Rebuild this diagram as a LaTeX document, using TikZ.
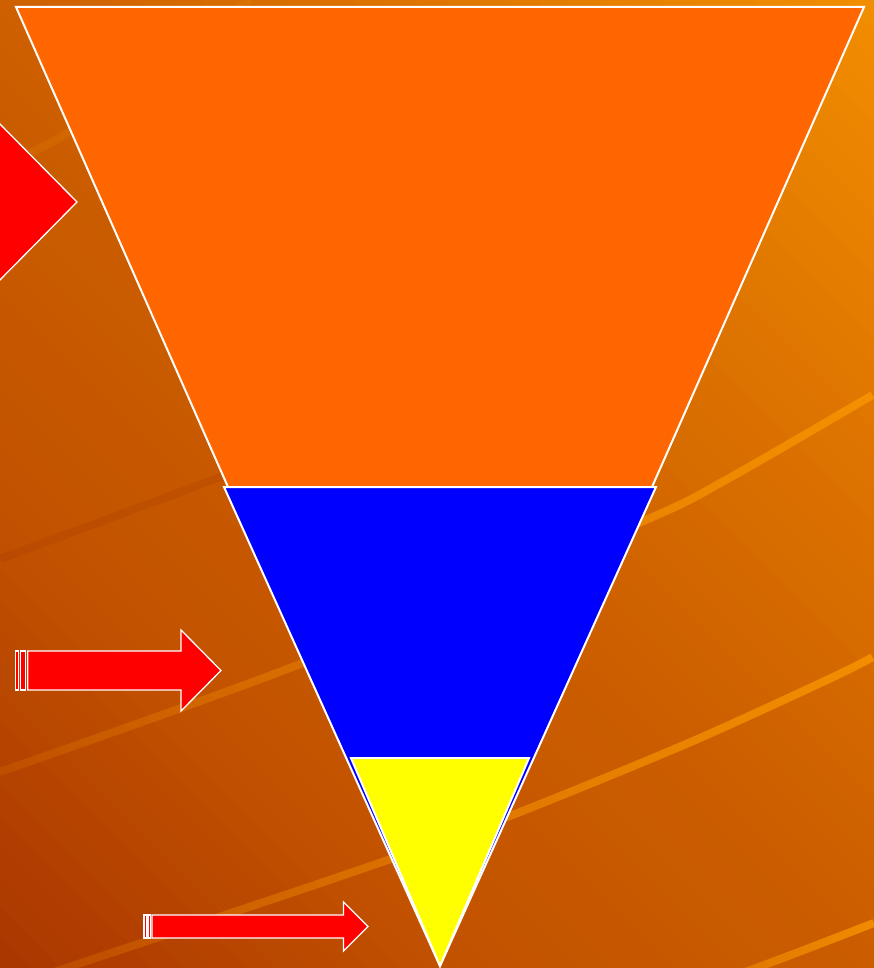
\documentclass[tikz,border=0pt]{standalone}
\usepackage{tikz}
\usetikzlibrary{calc, fadings}

\definecolor{bga}{HTML}{AA3600}
\definecolor{bgb}{HTML}{C25200}
\definecolor{bgc}{HTML}{CC5E00}
\definecolor{bgd}{HTML}{DE7400}
\definecolor{bge}{HTML}{F28E00}
\definecolor{stripelight}{HTML}{F89400}
\definecolor{stripedark}{HTML}{A03400}
\definecolor{funnelorange}{HTML}{FF6600}
\definecolor{funnelblue}{HTML}{0000FF}
\definecolor{funnelyellow}{HTML}{FFFF00}
\definecolor{arrowred}{HTML}{FF0000}

\tikzfading[name=stripefade, left color=transparent!85, right color=transparent!15]

\begin{document}
\begin{tikzpicture}[x=1pt, y=-1pt]
            \tikzstyle{layer} = [draw=white, line width=2pt, line join=miter]
            \tikzstyle{redpart} = [draw=white, fill=arrowred, line width=1.3pt, line join=miter]
            \tikzstyle{stripe} = [line width=8pt, color=stripelight, path fading=stripefade]
            
            % frame and background, diagonal bands from bottom left to top right
            \useasboundingbox (0,0) rectangle (874,968);
            \clip (0,0) rectangle (874,968);
            \foreach \ca/\cb/\k in {bga/bgb/0, bgb/bgc/1, bgc/bgd/2, bgd/bge/3}
              \foreach \j in {0,...,14} {
                \pgfmathsetmacro\sa{(\k*15+\j)*30.7 - 968}
                \pgfmathsetmacro\sb{\sa + 31.7}
                \pgfmathsetmacro\p{100 - (\j+0.5)*100/15}
                \fill[\ca!\p!\cb] (\sa-10,-10) -- (\sb-10,-10) -- (\sb+980,980) -- (\sa+980,980) -- cycle;
              }
            \draw[stripe] plot[smooth] coordinates {(0,772) (301,664) (640,523) (727,480) (874,395)};
            \draw[stripe] plot[smooth] coordinates {(0,990) (330,880) (500,820) (687,744) (830,679) (874,657)};
            \draw[stripe] plot[smooth] coordinates {(600,1025) (767,964) (874,923)};
            \draw[stripe, path fading=none, opacity=0.15] plot[smooth] coordinates {(0,165) (72,130) (250,0)};
            \draw[stripe, path fading=none, color=stripedark, opacity=0.2] plot[smooth] coordinates {(0,559) (215,479) (420,400)};
            
            % funnel
            \draw[layer, fill=funnelorange] (16,7) -- (864,7) -- (652,487) -- (228,487) -- cycle;
            \draw[layer, fill=funnelblue] (224,487) -- (656,487) -- (440,966) -- cycle;
            \draw[layer, fill=funnelyellow] (351,758) -- (529,758) -- (440,966) -- cycle;
            
            % arrows
            \draw[redpart] (-10,114) -- (77,202) -- (-10,290) -- cycle;
            
            \draw[redpart] (15.8,651) rectangle (18.8,690);
            \draw[redpart] (20.5,651) rectangle (25.8,690);
            \draw[redpart] (27.8,651) -- (181,651) -- (181,630) -- (221,670.5) -- (181,711) -- (181,690) -- (27.8,690) -- cycle;
            
            \draw[redpart] (144,915) rectangle (146.5,938);
            \draw[redpart] (148,915) rectangle (150.5,938);
            \draw[redpart] (152,915) -- (343.5,915) -- (343.5,902) -- (368,926.5) -- (343.5,951) -- (343.5,938) -- (152,938) -- cycle;
        \end{tikzpicture}
\end{document}
